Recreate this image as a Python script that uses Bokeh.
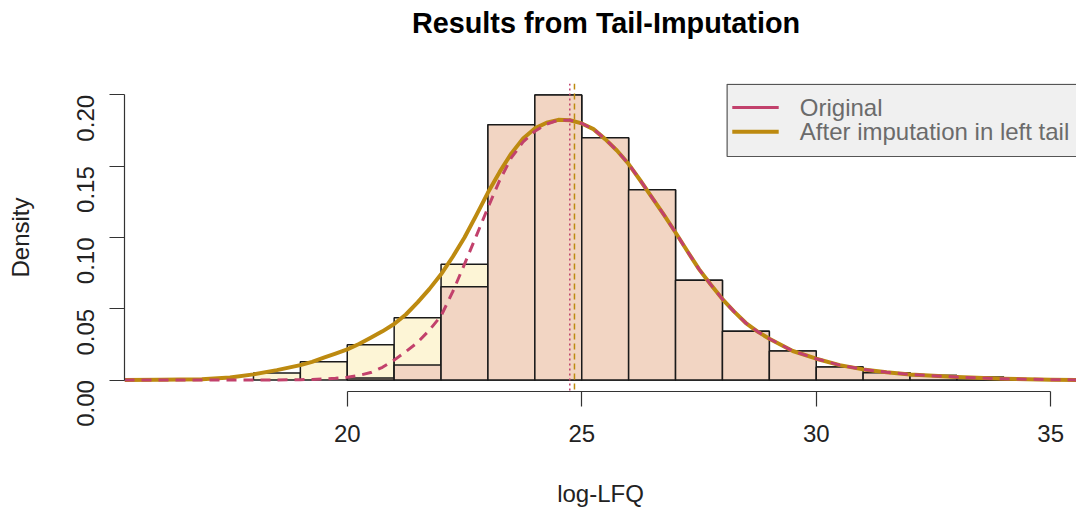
import math
from bokeh.plotting import figure
from bokeh.layouts import column
from bokeh.models import Span, Range1d, FixedTicker, PrintfTickFormatter, Div
from bokeh.core.properties import value
from bokeh.embed import file_html
from bokeh.resources import INLINE

# ---------------- data ----------------
bin_width = 1.0
imputed_bin_left = [18, 19, 20, 21, 22, 23, 24, 25, 26, 27, 28, 29, 30, 31, 32, 33, 34]
imputed_density = [0.005, 0.0128, 0.0248, 0.0437, 0.0812, 0.179, 0.200, 0.170, 0.1334,
                   0.070, 0.0342, 0.0204, 0.0091, 0.0051, 0.0033, 0.0020, 0.0007]

original_bin_left = [20, 21, 22, 23, 24, 25, 26, 27, 28, 29, 30, 31, 32, 33, 34]
original_density = [0.0015, 0.0105, 0.0655, 0.179, 0.200, 0.170, 0.1334,
                    0.070, 0.0342, 0.0204, 0.0091, 0.0051, 0.0033, 0.0020, 0.0007]

curve_x = [15.25, 16.0, 16.9, 17.5, 18.0, 18.5,
           19.0, 19.25, 19.5, 19.75, 20.0, 20.25, 20.5, 20.75, 21.0, 21.25, 21.5, 21.75,
           22.0, 22.25, 22.5, 22.75, 23.0, 23.25, 23.5, 23.75, 24.0, 24.25, 24.5, 24.75,
           25.0, 25.25, 25.5, 25.75, 26.0, 26.25, 26.5, 26.75, 27.0, 27.25, 27.5, 27.75,
           28.0, 28.25, 28.5, 28.75, 29.0, 29.5, 30.0, 30.5, 31.0, 31.5, 32.0, 33.0,
           34.0, 35.0, 35.6]
imputed_curve = [0.0, 0.0002, 0.0006, 0.0018, 0.004, 0.007,
                 0.0105, 0.0128, 0.0157, 0.0185, 0.0215, 0.0253, 0.0297, 0.0342, 0.0393,
                 0.0460, 0.0545, 0.0638,
                 0.0742, 0.0865, 0.1000, 0.1155, 0.1315, 0.146, 0.159, 0.1695, 0.1765, 0.1805,
                 0.1825, 0.1822,
                 0.180, 0.176, 0.169, 0.161, 0.1515, 0.140, 0.128, 0.116, 0.1035, 0.0905,
                 0.0778, 0.067,
                 0.0568, 0.048, 0.040, 0.034, 0.029, 0.0204, 0.015, 0.0105, 0.0075, 0.0055,
                 0.004, 0.0021,
                 0.0009, 0.0003, 0.0001]
original_curve = [0.0, 0.0, 0.0, 0.0, 0.0, 0.0001,
                  0.0003, 0.0005, 0.0008, 0.0013, 0.002, 0.0033, 0.0053, 0.009, 0.014,
                  0.020, 0.0264, 0.035,
                  0.045, 0.062, 0.0813, 0.101, 0.121, 0.140, 0.156, 0.167, 0.1745, 0.1795,
                  0.1823, 0.1822,
                  0.180, 0.176, 0.169, 0.161, 0.1515, 0.140, 0.128, 0.116, 0.1035, 0.0905,
                  0.0778, 0.067,
                  0.0568, 0.048, 0.040, 0.034, 0.029, 0.0204, 0.015, 0.0105, 0.0075, 0.0055,
                  0.004, 0.0021,
                  0.0009, 0.0003, 0.0001]

original_mean = 24.745
imputed_mean = 24.845

x_ticks = [20, 25, 30, 35]
y_ticks = [0.0, 0.05, 0.10, 0.15, 0.20]
legend_labels = ["Original", "After imputation in left tail"]
title_text = "Results from Tail-Imputation"

# ---------------- styling ----------------
PINK = "#c2416c"
GOLD = "#bd8a10"
PEACH = "#f2d5c3"
CREAM = "#fdf5d6"
FONT = "Liberation Sans"

TITLE_H = 50

title_div = Div(text=title_text, width=940, height=TITLE_H, margin=(0, 0, 0, 136),
                styles={"font-family": FONT, "font-size": "28.8px", "font-weight": "bold",
                        "text-align": "center", "line-height": "46px", "color": "#000000",
                        "white-space": "nowrap", "background-color": "white"})

p = figure(width=1076, height=509 - TITLE_H, output_backend="svg", toolbar_location=None,
           x_range=Range1d(15.25, 35.55), y_range=Range1d(-0.008, 0.208),
           min_border_left=124, min_border_right=0, min_border_top=83 - TITLE_H,
           min_border_bottom=118)
p.outline_line_color = None
p.xgrid.visible = False
p.ygrid.visible = False
p.background_fill_color = "white"
p.border_fill_color = "white"
p.title.text = ""

# histograms
p.quad(left=imputed_bin_left, right=[b + bin_width for b in imputed_bin_left],
       bottom=0, top=imputed_density, fill_color=CREAM, line_color="#1a1a1a",
       line_width=1.5)
p.quad(left=original_bin_left, right=[b + bin_width for b in original_bin_left],
       bottom=0, top=original_density, fill_color=PEACH, line_color="#1a1a1a",
       line_width=1.5)

# density curves
p.line(curve_x, imputed_curve, line_color=GOLD, line_width=4, line_join="round")
p.line(curve_x, original_curve, line_color=PINK, line_width=3, line_dash="10 7",
       line_join="round")

# mean lines
p.add_layout(Span(location=original_mean, dimension="height", line_color=PINK,
                  line_width=1.5, line_dash="2 3"))
p.add_layout(Span(location=imputed_mean, dimension="height", line_color=GOLD,
                  line_width=1.5, line_dash="6 4"))

# legend (drawn manually, box runs off the right edge as in the reference)
p.quad(left=[28.1], right=[36.5], bottom=[0.1568], top=[0.2074],
       fill_color="#f0f0f0", line_color="#555555", line_width=1.2)
p.segment(x0=[28.21, 28.21], x1=[29.20, 29.20], y0=[0.1912, 0.1741], y1=[0.1912, 0.1741],
          line_color=[PINK, GOLD], line_width=[3, 4])
p.text(x=[29.65, 29.65], y=[0.1912, 0.1741], text=legend_labels,
       text_font=value(FONT), text_font_size=value("24px"), text_color="#6b6b6b",
       text_baseline="middle", text_align="left")

# axes
for ax in (p.xaxis[0], p.yaxis[0]):
    ax.axis_line_color = "#333333"
    ax.axis_line_width = 1.2
    ax.major_tick_line_color = "#333333"
    ax.major_tick_line_width = 1.2
    ax.major_tick_in = 0
    ax.major_tick_out = 15
    ax.minor_tick_in = 0
    ax.minor_tick_out = 0
    ax.major_label_text_font = FONT
    ax.major_label_text_font_size = "24px"
    ax.major_label_text_color = "#222222"
    ax.axis_label_text_font = FONT
    ax.axis_label_text_font_size = "24px"
    ax.axis_label_text_font_style = "normal"
    ax.axis_label_text_color = "#222222"

p.xaxis.ticker = FixedTicker(ticks=x_ticks)
p.xaxis.bounds = (x_ticks[0], x_ticks[-1])
p.xaxis.axis_label = "log-LFQ"
p.xaxis.major_label_standoff = 18
p.xaxis.axis_label_standoff = 35

p.yaxis.ticker = FixedTicker(ticks=y_ticks)
p.yaxis.bounds = (y_ticks[0], y_ticks[-1])
p.yaxis.formatter = PrintfTickFormatter(format="%.2f")
p.yaxis.major_label_orientation = math.pi / 2
p.yaxis.axis_label = "Density"
p.yaxis.major_label_standoff = 24
p.yaxis.axis_label_standoff = 32

layout = column(title_div, p, spacing=0)

open("out.html", "w").write(file_html(layout, INLINE))
